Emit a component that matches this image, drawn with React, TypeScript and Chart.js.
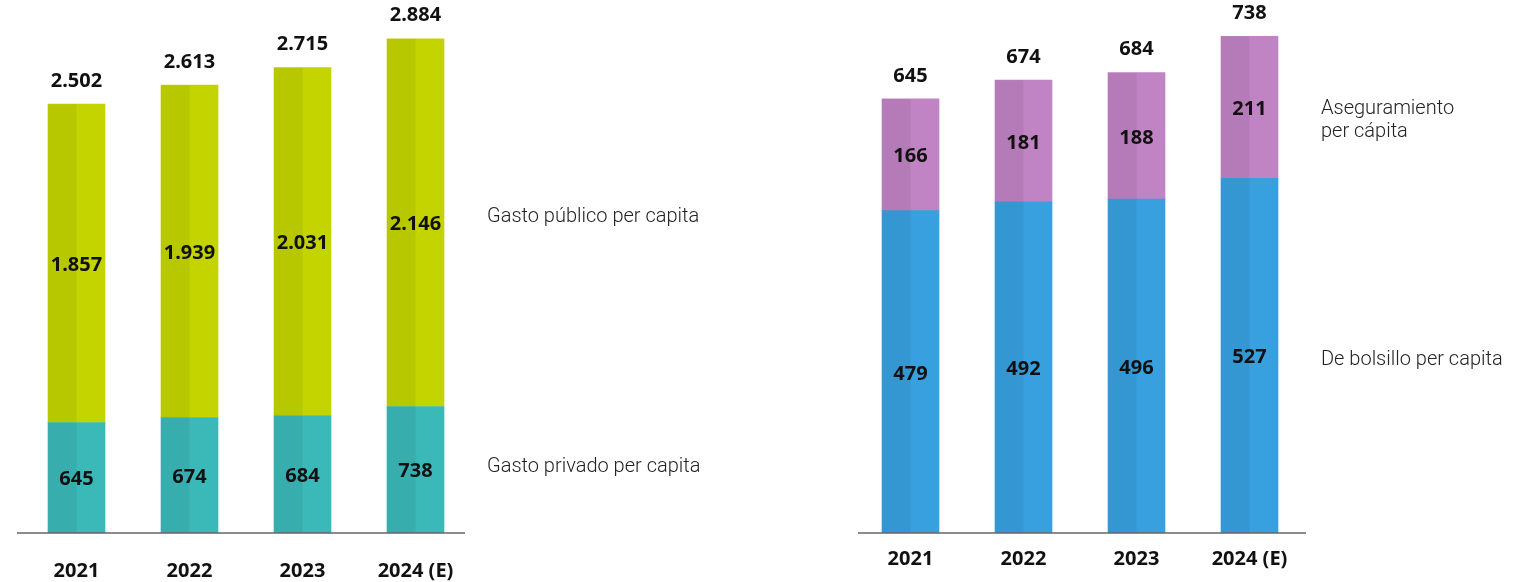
import React, { useEffect, useRef } from "react";
import { Chart, registerables } from "chart.js";

Chart.register(...registerables);

const years = ["2021", "2022", "2023", "2024 (E)"];
const gastoPrivado = [645, 674, 684, 738];
const gastoPublico = [1857, 1939, 2031, 2146];
const totalGasto = [2502, 2613, 2715, 2884];
const deBolsillo = [479, 492, 496, 527];
const aseguramiento = [166, 181, 188, 211];
const totalBolsillo = [645, 674, 684, 738];

const leftLegend = [["Gasto privado per capita"], ["Gasto público per capita"]];
const rightLegend = [["De bolsillo per capita"], ["Aseguramiento", "per cápita"]];

const fmt = (v: number) => {
  const s = Math.round(v).toString();
  return s.replace(/\B(?=(\d{3})+(?!\d))/g, ".");
};

const NUM_FONT = "bold 20px 'Noto Sans', sans-serif";
const LEG_FONT = "300 20px Roboto, sans-serif";

const barPlugin = {
  id: "barDecor",
  afterDatasetsDraw(chart: any) {
    const o = chart.options.plugins.barDecor;
    const ctx = chart.ctx;
    ctx.save();
    // darker left half
    chart.data.datasets.forEach((_: any, di: number) => {
      const meta = chart.getDatasetMeta(di);
      meta.data.forEach((el: any) => {
        const p = el.getProps(["x", "y", "base", "width"], true);
        const top = Math.min(p.y, p.base);
        const h = Math.abs(p.base - p.y);
        ctx.fillStyle = "rgba(0,0,0,0.055)";
        ctx.fillRect(p.x - p.width / 2, top, p.width / 2, h);
      });
    });
    // baseline
    const yb = chart.scales.y.getPixelForValue(0);
    ctx.strokeStyle = "#666";
    ctx.lineWidth = 1.5;
    ctx.beginPath();
    ctx.moveTo(chart.chartArea.left + o.lineL, yb);
    ctx.lineTo(chart.chartArea.right + o.lineR, yb);
    ctx.stroke();
    // segment labels
    ctx.font = NUM_FONT;
    ctx.fillStyle = "#111";
    ctx.textAlign = "center";
    ctx.textBaseline = "middle";
    chart.data.datasets.forEach((ds: any, di: number) => {
      const meta = chart.getDatasetMeta(di);
      meta.data.forEach((el: any, i: number) => {
        const p = el.getProps(["x", "y", "base"], true);
        ctx.fillText(fmt(ds.data[i]), p.x, (p.y + p.base) / 2 + 2);
      });
    });
    // totals
    const lastMeta = chart.getDatasetMeta(chart.data.datasets.length - 1);
    lastMeta.data.forEach((el: any, i: number) => {
      const p = el.getProps(["x", "y"], true);
      ctx.fillText(fmt(o.totals[i]), p.x, p.y - 23);
    });
    // legend labels
    ctx.font = LEG_FONT;
    ctx.fillStyle = "#222";
    ctx.textAlign = "left";
    const n = chart.data.labels.length - 1;
    chart.data.datasets.forEach((_: any, di: number) => {
      const el = chart.getDatasetMeta(di).data[n];
      const p = el.getProps(["y", "base"], true);
      const mid = (p.y + p.base) / 2;
      const lines: string[] = o.legend[di];
      const lh = 23;
      lines.forEach((t, k) => {
        ctx.fillText(t, o.legendX, mid + (k - (lines.length - 1) / 2) * lh + o.legendDy[di]);
      });
    });
    ctx.restore();
  },
};

function makeConfig(opts: any) {
  return {
    type: "bar",
    data: {
      labels: years,
      datasets: [
        { data: opts.bottom, backgroundColor: opts.c1, borderWidth: 0, barThickness: 57 },
        { data: opts.top, backgroundColor: opts.c2, borderWidth: 0, barThickness: 57 },
      ],
    },
    options: {
      responsive: false,
      animation: false,
      layout: { padding: { left: opts.padL, right: opts.padR, top: 0, bottom: 0 } },
      scales: {
        x: {
          stacked: true,
          grid: { display: false, drawTicks: false },
          border: { display: false },
          ticks: {
            padding: opts.tickPad,
            color: "#111",
            font: { family: "'Noto Sans', sans-serif", size: 20, weight: "bold" },
          },
          afterFit: (s: any) => {
            s.height = 49;
          },
        },
        y: { stacked: true, display: false, min: 0, max: opts.max },
      },
      plugins: {
        legend: { display: false },
        tooltip: { enabled: false },
        barDecor: {
          totals: opts.totals,
          legend: opts.legend,
          legendX: opts.legendX,
          legendDy: opts.legendDy,
          lineL: opts.lineL,
          lineR: opts.lineR,
        },
      },
    },
    plugins: [barPlugin],
  } as any;
}

function ChartBox({ cfg, left }: { cfg: any; left: number }) {
  const ref = useRef<HTMLCanvasElement>(null);
  useEffect(() => {
    const c = new Chart(ref.current as HTMLCanvasElement, cfg);
    return () => c.destroy();
  }, [cfg]);
  return (
    <canvas
      ref={ref}
      width={766}
      height={582}
      style={{ position: "absolute", left, top: 0, width: 766, height: 582 }}
    />
  );
}

const leftCfg = makeConfig({
  bottom: gastoPrivado,
  top: gastoPublico,
  totals: totalGasto,
  c1: "#3bb9b8",
  c2: "#c3d400",
  padL: 20,
  padR: 294,
  max: 3110,
  tickPad: 26,
  legend: leftLegend,
  legendX: 487,
  legendDy: [-3, -6],
  lineL: -3,
  lineR: -7,
});

const rightCfg = makeConfig({
  bottom: deBolsillo,
  top: aseguramiento,
  totals: totalBolsillo,
  c1: "#38a0df",
  c2: "#c083c3",
  padL: 88,
  padR: 226,
  max: 792,
  tickPad: 14,
  legend: rightLegend,
  legendX: 555,
  legendDy: [4, 13],
  lineL: 4,
  lineR: 0,
});

export default function App() {
  return (
    <div style={{ position: "absolute", left: 0, top: 0, width: 1532, height: 582, background: "#fff" }}>
      <ChartBox cfg={leftCfg} left={0} />
      <ChartBox cfg={rightCfg} left={766} />
    </div>
  );
}
